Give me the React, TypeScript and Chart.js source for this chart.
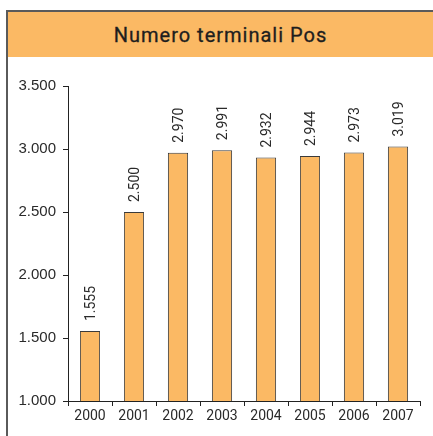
import React, { useEffect, useRef } from "react";
import { Chart, registerables } from "chart.js";

Chart.register(...registerables);

const title = "Numero terminali Pos";
const years = ["2000", "2001", "2002", "2003", "2004", "2005", "2006", "2007"];
const terminals = [1555, 2500, 2970, 2991, 2932, 2944, 2973, 3019];
const yMin = 1000;
const yMax = 3500;
const yStep = 500;

const fmt = (v: number) => {
  const s = Math.round(v).toString();
  return s.replace(/\B(?=(\d{3})+(?!\d))/g, ".");
};

const labelPlugin = {
  id: "barLabels",
  afterDatasetsDraw(chart: any) {
    const ctx = chart.ctx;
    const meta = chart.getDatasetMeta(0);
    ctx.save();
    ctx.font = "14px Roboto";
    ctx.fillStyle = "#2a2a2a";
    ctx.textAlign = "left";
    ctx.textBaseline = "middle";
    meta.data.forEach((bar: any, i: number) => {
      ctx.save();
      ctx.translate(bar.x, bar.y - 10);
      ctx.rotate(-Math.PI / 2);
      ctx.fillText(fmt(terminals[i]), 0, 1);
      ctx.restore();
    });
    ctx.restore();
  },
};

export default function App() {
  const ref = useRef<HTMLCanvasElement>(null);
  useEffect(() => {
    if (!ref.current) return;
    const chart = new Chart(ref.current, {
      type: "bar",
      data: {
        labels: years,
        datasets: [
          {
            data: terminals,
            backgroundColor: "#FBB964",
            borderColor: "#3a3a3a",
            borderWidth: 1,
            barPercentage: 0.46,
            categoryPercentage: 1,
          },
        ],
      },
      options: {
        responsive: false,
        animation: false,
        layout: { padding: { top: 86, right: 13, left: 0, bottom: 0 } },
        plugins: { legend: { display: false }, tooltip: { enabled: false } },
        scales: {
          x: {
            afterFit: (s: any) => {
              s.height = 35;
            },
            border: { display: true, color: "#222", width: 1 },
            grid: {
              display: true,
              drawOnChartArea: false,
              drawTicks: true,
              tickLength: 5,
              color: "#222",
              offset: true,
            },
            ticks: {
              color: "#2a2a2a",
              font: { family: "Roboto", size: 14 },
              padding: 2,
              maxRotation: 0,
            },
          },
          y: {
            min: yMin,
            max: yMax,
            afterFit: (s: any) => {
              s.width = 68;
            },
            border: { display: true, color: "#222", width: 1 },
            grid: {
              display: true,
              drawOnChartArea: false,
              drawTicks: true,
              tickLength: 5,
              color: "#222",
            },
            ticks: {
              stepSize: yStep,
              color: "#2a2a2a",
              font: { family: "Liberation Sans", size: 15 },
              padding: 7,
              callback: (v: any) => fmt(Number(v)),
            },
          },
        },
      },
      plugins: [labelPlugin],
    });
    return () => chart.destroy();
  }, []);

  return (
    <div style={{ position: "fixed", left: 0, top: 0, width: 433, height: 436, overflow: "hidden", background: "#fff" }}>
      <div
        style={{
          position: "absolute",
          left: 6,
          top: 10,
          width: 460,
          height: 460,
          borderLeft: "2px solid #5a5a5a",
          borderTop: "2px solid #5a5a5a",
          boxSizing: "border-box",
        }}
      />
      <div
        style={{
          position: "absolute",
          left: 8,
          top: 12,
          width: 425,
          height: 45,
          background: "#FBB964",
          display: "flex",
          alignItems: "center",
          justifyContent: "center",
          fontFamily: "Roboto",
          fontWeight: 400,
          fontSize: 20,
          color: "#1e1e1e",
          letterSpacing: 1,
          WebkitTextStroke: "0.3px #1e1e1e",
        }}
      >
        {title}
      </div>
      <canvas ref={ref} width={433} height={436} style={{ position: "absolute", left: 0, top: 0 }} />
    </div>
  );
}
